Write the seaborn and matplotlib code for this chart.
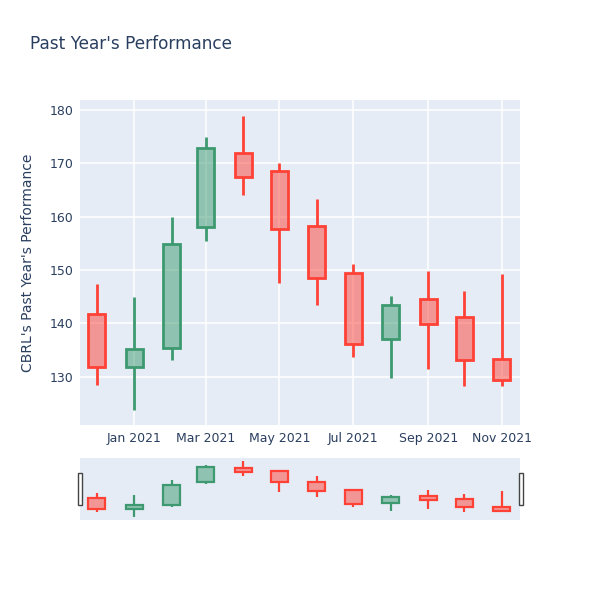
import pandas as pd
import numpy as np
import matplotlib
matplotlib.use("Agg")
import matplotlib.pyplot as plt
import matplotlib.dates as mdates
import seaborn as sns

# --------------------------
# Data (monthly OHLC)
# --------------------------
months = ["2020-12-01", "2021-01-01", "2021-02-01", "2021-03-01", "2021-04-01", "2021-05-01",
          "2021-06-01", "2021-07-01", "2021-08-01", "2021-09-01", "2021-10-01", "2021-11-01"]
open_ = [141.8, 131.7, 135.3, 158.0, 172.0, 168.5, 158.2, 149.5, 137.1, 144.5, 141.2, 133.3]
high = [147.4, 144.9, 159.9, 175.0, 178.9, 170.0, 163.3, 151.2, 145.1, 149.8, 146.1, 149.3]
low = [128.5, 123.7, 133.1, 155.5, 164.1, 147.5, 143.4, 133.6, 129.7, 131.5, 128.2, 128.3]
close = [131.7, 135.2, 154.8, 172.8, 167.4, 157.6, 148.5, 136.1, 143.5, 139.8, 133.1, 129.3]

df = pd.DataFrame({"date": pd.to_datetime(months), "open": open_, "high": high,
                   "low": low, "close": close})
df["x"] = mdates.date2num(df["date"])
df["up"] = df["close"] >= df["open"]
df["top"] = df[["open", "close"]].max(axis=1)
df["bot"] = df[["open", "close"]].min(axis=1)

INC = "#3D9970"
DEC = "#FF4136"
TXT = "#2a3f5f"

sns.set_theme(style="darkgrid", rc={"axes.facecolor": "#e5ecf6", "grid.color": "white",
                                    "grid.linewidth": 1.1, "axes.edgecolor": "#e5ecf6"})
plt.rcParams["font.family"] = ["DejaVu Sans"]

fig = plt.figure(figsize=(6, 6), dpi=100)
ax = fig.add_axes([80 / 600, 1 - 425 / 600, 440 / 600, 325 / 600])
ax_s = fig.add_axes([80 / 600, 1 - 519.5 / 600, 440 / 600, 62 / 600])

xlim = (mdates.date2num(pd.Timestamp("2020-11-17")), mdates.date2num(pd.Timestamp("2021-11-16")))
ylim = (120.9, 181.9)


def draw_candles(a, lw, width=14):
    for _, r in df.iterrows():
        c = INC if r["up"] else DEC
        a.vlines(r["x"], r["top"], r["high"], color=c, lw=lw, zorder=3)
        a.vlines(r["x"], r["low"], r["bot"], color=c, lw=lw, zorder=3)
        a.bar(r["x"], r["top"] - r["bot"], bottom=r["bot"], width=width,
              color=matplotlib.colors.to_rgba(c, 0.5), edgecolor=c, linewidth=lw, zorder=4)
    a.set_xlim(*xlim)
    a.set_ylim(*ylim)


# --------------------------
# Main candlestick chart
# --------------------------
draw_candles(ax, 2)
ax.xaxis.set_major_locator(mdates.MonthLocator(bymonth=[1, 3, 5, 7, 9, 11]))
ax.xaxis.set_major_formatter(mdates.DateFormatter("%b %Y"))
ax.set_yticks([130, 140, 150, 160, 170, 180])
ax.tick_params(colors=TXT, labelsize=9, length=0, pad=5)
ax.set_ylabel("CBRL's Past Year's Performance", color=TXT, fontsize=10, labelpad=10)
for s in ax.spines.values():
    s.set_visible(False)

# --------------------------
# Range slider
# --------------------------
draw_candles(ax_s, 1.6)
ax_s.grid(False)
ax_s.set_xticks([])
ax_s.set_yticks([])
for s in ax_s.spines.values():
    s.set_visible(False)
for hx in (77.5, 518.5):
    fig.patches.append(plt.Rectangle((hx / 600, 1 - 505 / 600), 4 / 600, 32 / 600,
                                     transform=fig.transFigure, facecolor="white",
                                     edgecolor="#444444", lw=1, zorder=5))

fig.text(30 / 600, 1 - 44 / 600, "Past Year's Performance", color=TXT, fontsize=12.2,
         va="center", ha="left")

fig.savefig("out.png", dpi=100)
